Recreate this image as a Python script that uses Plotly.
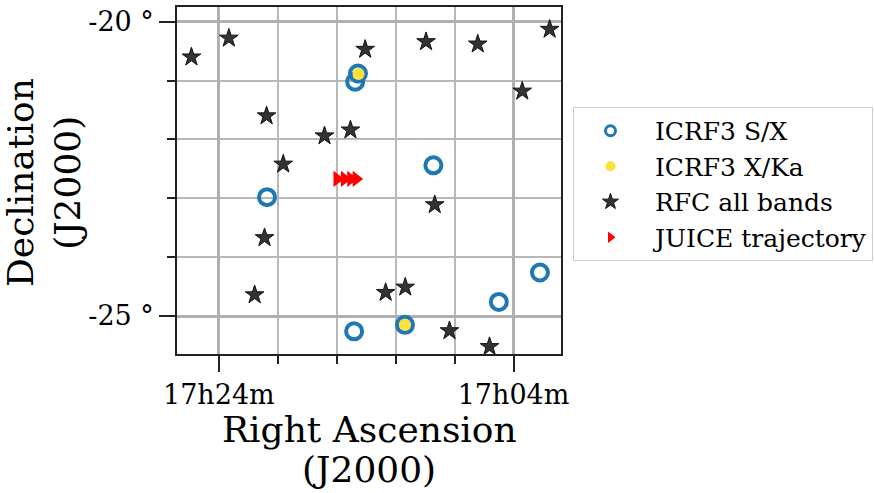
import plotly.graph_objects as go

# RA in minutes past 17h, Dec in degrees
sx_ra = [14.56, 14.75, 9.44, 20.73, 2.21, 5.00, 14.82, 11.37]
sx_dec = [-20.88, -21.02, -22.44, -22.98, -24.26, -24.76, -25.26, -25.15]

xka_ra = [14.52, 11.37]
xka_dec = [-20.89, -25.15]

rfc_ra = [25.86, 23.32, 14.07, 9.94, 6.43, 1.55, 3.41, 20.76, 16.83, 15.07,
          19.63, 9.35, 20.90, 21.57, 12.68, 11.35, 8.35, 5.63]
rfc_dec = [-20.60, -20.28, -20.47, -20.34, -20.38, -20.13, -21.18, -21.60, -21.94, -21.84,
           -22.42, -23.11, -23.67, -24.64, -24.60, -24.51, -25.25, -25.52]

juice_ra = [15.98, 15.48, 15.05, 14.68]
juice_dec = [-22.67, -22.67, -22.67, -22.67]

x_tickvals = [24, 4]
x_ticktext = ["17h24m", "17h04m"]
x_minor = [20, 16, 12, 8]
y_tickvals = [-20, -25]
y_ticktext = ["-20 °", "-25 °"]
y_minor = [-21, -22, -23, -24]

FONT = "DejaVu Serif"
BLUE = "#1f77b4"
YELLOW = "#fde13a"
NB = "\u00a0"

fig = go.Figure()
fig.add_trace(go.Scatter(x=sx_ra, y=sx_dec, mode="markers", showlegend=False,
                         marker=dict(symbol="circle-open", size=16, color=BLUE, line=dict(width=4, color=BLUE))))
fig.add_trace(go.Scatter(x=xka_ra, y=xka_dec, mode="markers", showlegend=False,
                         marker=dict(symbol="circle", size=12, color=YELLOW, line=dict(width=0))))
fig.add_trace(go.Scatter(x=rfc_ra, y=rfc_dec, mode="markers", showlegend=False,
                         marker=dict(symbol="star", size=14, color="#333333", line=dict(width=1, color="#111111"))))
fig.add_trace(go.Scatter(x=juice_ra, y=juice_dec, mode="markers", showlegend=False,
                         marker=dict(symbol="triangle-right", size=14, color="red", line=dict(width=0))))

# legend entries
fig.add_trace(go.Scatter(x=[None], y=[None], mode="markers", name=NB + "ICRF3 S/X", legendgroup="a",
                         marker=dict(symbol="circle-open", size=10, color=BLUE, line=dict(width=3, color=BLUE))))
fig.add_trace(go.Scatter(x=[None], y=[None], mode="markers", name=NB + "ICRF3 X/Ka", legendgroup="b",
                         marker=dict(symbol="circle", size=10, color=YELLOW, line=dict(width=0))))
fig.add_trace(go.Scatter(x=[None], y=[None], mode="markers", name=NB + "RFC all bands", legendgroup="c",
                         marker=dict(symbol="star", size=12, color="#333333", line=dict(width=1, color="#111111"))))
fig.add_trace(go.Scatter(x=[None], y=[None], mode="markers", name=NB + "JUICE trajectory", legendgroup="d",
                         marker=dict(symbol="triangle-right", size=10, color="red", line=dict(width=0))))

axis_common = dict(
    ticks="outside", ticklen=16, tickwidth=1.5, tickcolor="#222",
    tickfont=dict(family=FONT, size=27, color="black"),
    showgrid=True, gridcolor="#b0b0b0", gridwidth=2.5,
    showline=True, linecolor="#222", linewidth=1.5, mirror=True, zeroline=False,
    automargin=False,
)
minor_common = dict(tickmode="array", ticks="outside", ticklen=8, tickwidth=1.5,
                    tickcolor="#222", showgrid=True, gridcolor="#b8b8b8", gridwidth=1.6)

fig.update_xaxes(range=[26.84, 0.78], tickmode="array", tickvals=x_tickvals, ticktext=x_ticktext,
                 minor=dict(tickvals=x_minor, **minor_common), **axis_common)
fig.update_yaxes(range=[-25.645, -19.75], tickmode="array", tickvals=y_tickvals, ticktext=y_ticktext,
                 minor=dict(tickvals=y_minor, **minor_common), **axis_common)

title_font = dict(family=FONT, size=36, color="black")
annos = [
    dict(text="Right Ascension", x=0.5, y=-0.219),
    dict(text="(J2000)", x=0.5, y=-0.334),
    dict(text="Declination", x=-0.406, y=0.493, textangle=-90),
    dict(text="(J2000)", x=-0.284, y=0.493, textangle=-90),
]
for a in annos:
    fig.add_annotation(xref="paper", yref="paper", xanchor="center", yanchor="middle",
                       showarrow=False, font=title_font, **a)

fig.update_layout(
    width=874, height=493,
    margin=dict(l=177, r=313, t=7, b=139),
    paper_bgcolor="white", plot_bgcolor="white",
    font=dict(family=FONT, color="black"),
    legend=dict(xref="container", yref="container", x=0.6556, y=0.783,
                xanchor="left", yanchor="top",
                bordercolor="#cccccc", borderwidth=1, bgcolor="white",
                font=dict(family=FONT, size=25, color="black"), itemwidth=63,
                tracegroupgap=0),
)

fig.write_html("out.html", post_script="document.body.style.margin='0px';",
               config={"displayModeBar": False})
